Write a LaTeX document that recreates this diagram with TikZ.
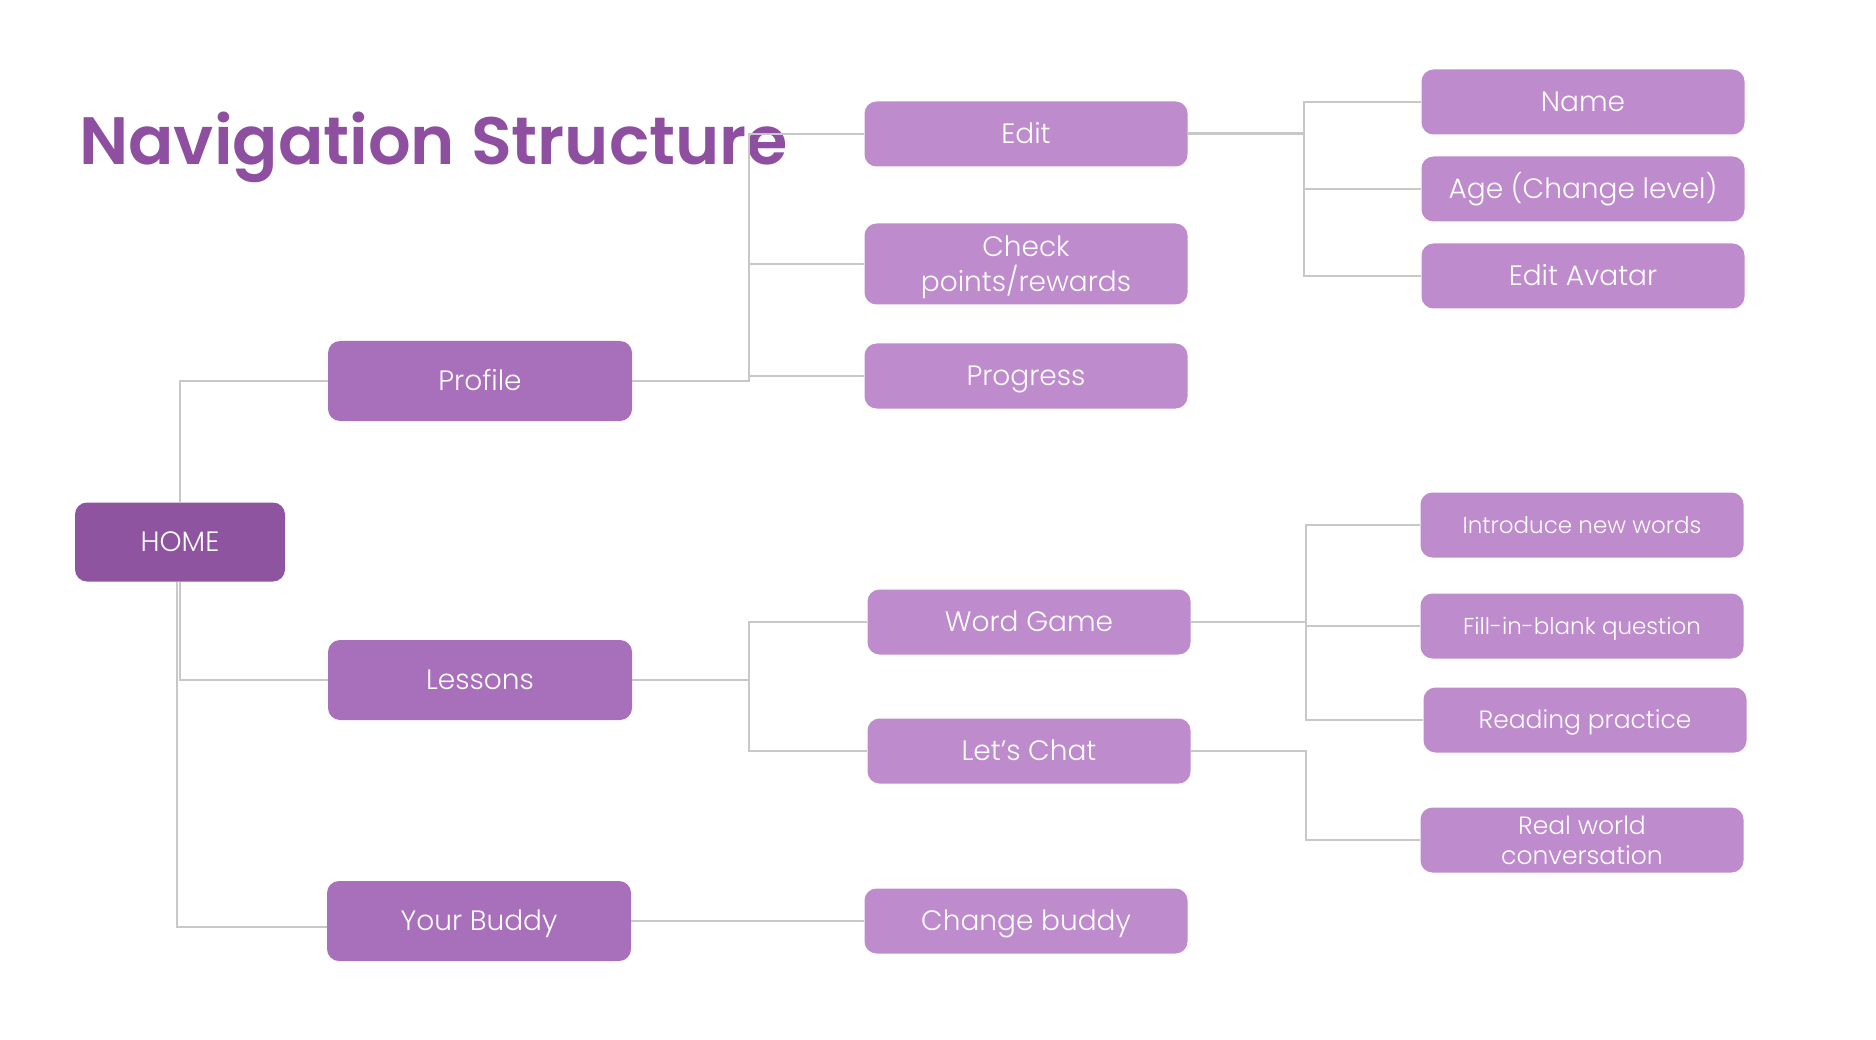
\documentclass[tikz,border=0pt]{standalone}
\usepackage{fontspec}
\setmainfont{Poppins}
\newfontfamily\nodefont{Poppins}[UprightFont={* Light}]
\newfontfamily\titlefont{Poppins}[UprightFont={* SemiBold}]
\definecolor{titlecol}{HTML}{8E4FA0}
\definecolor{homecol}{HTML}{8E54A0}
\definecolor{lvlone}{HTML}{A86FBA}
\definecolor{lvltwo}{HTML}{BE8BCD}
\definecolor{linecol}{HTML}{C8C8C8}
\tikzset{
  box/.style={rounded corners=12pt, inner sep=0pt, align=center, text=white,
    font=\nodefont\fontsize{28}{35}\selectfont},
  single/.style={text height=19.6pt, text depth=0pt},
  homebox/.style={box, single, fill=homecol, minimum width=210pt, minimum height=79pt},
  onebox/.style={box, single, fill=lvlone, minimum width=304pt, minimum height=80pt},
  twobox/.style={box, fill=lvltwo, minimum width=323pt, minimum height=65pt},
  smalltext/.style={font=\nodefont\fontsize{23}{29}\selectfont, text height=16.1pt, text depth=0pt},
  midtext/.style={font=\nodefont\fontsize{25}{30}\selectfont},
  midsingle/.style={midtext, text height=17.5pt, text depth=0pt},
  conn/.style={draw=linecol, line width=2pt},
}
\begin{document}
\begin{tikzpicture}[x=1pt,y=-1pt]
\useasboundingbox (0,0) rectangle (1876,1040);
\fill[white] (0,0) rectangle (1876,1040);

\node[anchor=base west, text=titlecol, inner sep=0pt,
  font=\titlefont\fontsize{67}{70}\selectfont] (title) at (79,165) {Navigation Structure};

% level 0 / 1
\node[homebox] (home) at (180,542) {HOME};
\node[onebox] (profile) at (480,381) {Profile};
\node[onebox] (lessons) at (480,680) {Lessons};
\node[onebox] (buddy) at (479,921) {Your Buddy};

% level 2
\node[twobox, single] (edit) at (1026,134) {Edit};
\node[twobox, minimum height=81pt] (check) at (1026,264) {\rule{0pt}{28pt}Check\\points/rewards};
\node[twobox, single] (progress) at (1026,376) {Progress};
\node[twobox, single] (word) at (1029,622) {Word Game};
\node[twobox, single] (chat) at (1029,751) {Let’s Chat};
\node[twobox, single] (change) at (1026,921) {Change buddy};

% level 3
\node[twobox, single] (name) at (1583,102) {Name};
\node[twobox, single] (age) at (1583,189) {Age (Change level)};
\node[twobox, single] (avatar) at (1583,276) {Edit Avatar};
\node[twobox, smalltext] (intro) at (1582,525) {Introduce new words};
\node[twobox, smalltext] (fill) at (1582,626) {Fill-in-blank question};
\node[twobox, midsingle] (reading) at (1585,720) {Reading practice};
\node[twobox, midtext] (real) at (1582,840) {Real world\\conversation};

% bus coordinates
\coordinate (b1) at (749,381);
\coordinate (b2) at (1304,134);
\coordinate (b3) at (749,680);
\coordinate (b4) at (1306,622);
\coordinate (b5) at (1306,751);
\coordinate (hb) at (177,927);

\draw[conn] (home.north) |- (profile.west);
\draw[conn] (home.south) |- (lessons.west);
\draw[conn] (home.south -| hb) -- (hb) -- (hb -| buddy.west);

\draw[conn] (profile.east) -- (b1) |- (edit.west);
\draw[conn] (b1) |- (check.west);
\draw[conn] (b1) |- (progress.west);

\draw[conn, line width=3pt] (edit.east) -- (b2);
\draw[conn] (b2) |- (name.west);
\draw[conn] (b2) |- (age.west);
\draw[conn] (b2) |- (avatar.west);

\draw[conn] (lessons.east) -- (b3) |- (word.west);
\draw[conn] (b3) |- (chat.west);

\draw[conn] (word.east) -- (b4) |- (intro.west);
\draw[conn] (b4) |- (fill.west);
\draw[conn] (b4) |- (reading.west);

\draw[conn] (chat.east) -- (b5) |- (real.west);

\draw[conn] (buddy.east) -- (change.west);
\end{tikzpicture}
\end{document}
